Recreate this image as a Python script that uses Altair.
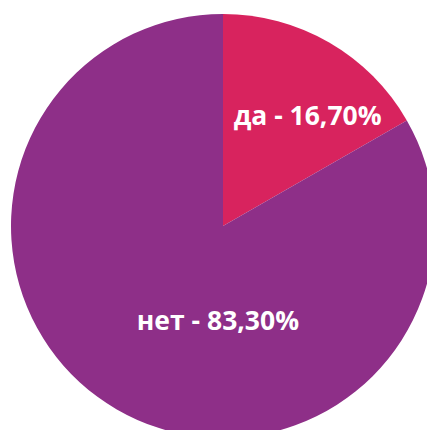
import altair as alt
import pandas as pd

categories = ["да", "нет"]
values = [16.70, 83.30]
labels = ["да - 16,70%", "нет - 83,30%"]
colors = ["#D8235E", "#8E2F88"]

df = pd.DataFrame({"cat": categories, "val": values, "label": labels, "order": [0, 1]})

cx, cy, R = 215, 218, 212

base = alt.Chart(df).encode(
    theta=alt.Theta("val:Q", stack=True),
    order=alt.Order("order:Q"),
    x=alt.value(cx),
    y=alt.value(cy),
)

pie = base.mark_arc(radius=R, stroke=None).encode(
    color=alt.Color("cat:N", scale=alt.Scale(domain=categories, range=colors), legend=None)
)

def lab(cat, r, dx, dy):
    return base.mark_text(
        radius=r, dx=dx, dy=dy, font="Open Sans", fontWeight="bold", fontSize=26.5,
        color="white", align="center", baseline="middle"
    ).encode(
        text="label:N",
        opacity=alt.condition(alt.datum.cat == cat, alt.value(1), alt.value(0)),
    )

chart = alt.layer(
    pie,
    lab("да", 139, 15, 11),
    lab("нет", 96, 43, 13),
).properties(
    width=419, height=422, padding=0, autosize=alt.AutoSizeParams(type="none")
).configure_view(stroke=None)

chart.save("out.html", embed_options={"renderer": "svg", "actions": False})
